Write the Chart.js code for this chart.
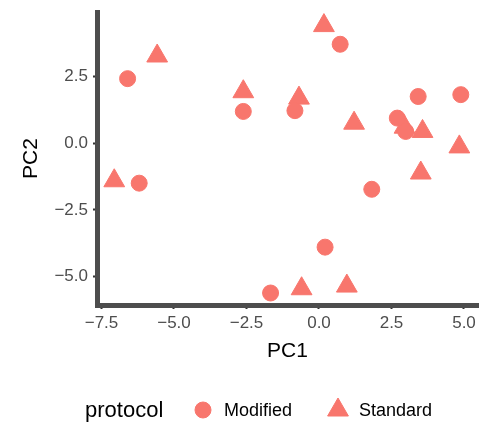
<!DOCTYPE html>
<html>
<head>
<meta charset="utf-8">
<title>PCA by protocol</title>
<script src="https://cdn.jsdelivr.net/npm/chart.js@4/dist/chart.umd.min.js"></script>
<style>
    body { margin: 0; background: #fff; }
    canvas { display: block; }
</style>
</head>
<body>
<canvas id="pca-chart" width="483" height="423"></canvas>
<script>
// values
const modifiedPC1 = [-6.60, -6.20, -2.61, -0.83, 0.73, 2.70, 2.99, 3.42, 4.89, 1.82, 0.21, -1.67];
const modifiedPC2 = [2.42, -1.50, 1.19, 1.22, 3.71, 0.94, 0.44, 1.75, 1.82, -1.73, -3.90, -5.62];
const standardPC1 = [-5.58, -2.61, 0.17, -0.69, 1.21, 2.95, 3.57, 4.84, 3.51, -7.06, -0.60, 0.96];
const standardPC2 = [3.27, 1.93, 4.41, 1.69, 0.75, 0.60, 0.44, -0.14, -1.12, -1.41, -5.46, -5.36];
const xTicks = [-7.5, -5.0, -2.5, 0.0, 2.5, 5.0];
const yTicks = [-5.0, -2.5, 0.0, 2.5];
const groups = ['Modified', 'Standard'];

const pointColor = '#F8766D';
const fontFamily = '"Liberation Sans", Arial, Helvetica, sans-serif';

function toPoints(xs, ys) {
    return xs.map((x, i) => ({ x: x, y: ys[i] }));
}

function formatTick(value) {
    return value.toFixed(1).replace('-', '\u2212');
}

// legend drawn by hand: title on the left, keys in a row
const bottomLegend = {
    id: 'bottomLegend',
    afterDraw(chart) {
        const ctx = chart.ctx;
        const y = 410;
        ctx.save();
        ctx.fillStyle = '#000';
        ctx.textBaseline = 'middle';
        ctx.font = '22px ' + fontFamily;
        ctx.fillText('protocol', 85, y + 1);

        const keys = [
            { style: 'circle', radius: 8, x: 203, textX: 224 },
            { style: 'triangle', radius: 12, x: 338, textX: 359 }
        ];
        ctx.font = '18px ' + fontFamily;
        keys.forEach((key, i) => {
            ctx.fillStyle = pointColor;
            ctx.strokeStyle = pointColor;
            ctx.lineWidth = 1;
            Chart.helpers.drawPoint(ctx, { pointStyle: key.style, radius: key.radius, rotation: 0, borderWidth: 1 }, key.x, y);
            ctx.fillStyle = '#000';
            ctx.fillText(groups[i], key.textX, y + 1);
        });
        ctx.restore();
    }
};

const ctx = document.getElementById('pca-chart').getContext('2d');
new Chart(ctx, {
    type: 'scatter',
    data: {
        datasets: [
            {
                label: groups[0],
                data: toPoints(modifiedPC1, modifiedPC2),
                pointStyle: 'circle',
                pointRadius: 8,
                pointHoverRadius: 8,
                backgroundColor: pointColor,
                borderColor: pointColor,
                borderWidth: 1
            },
            {
                label: groups[1],
                data: toPoints(standardPC1, standardPC2),
                pointStyle: 'triangle',
                pointRadius: 12,
                pointHoverRadius: 12,
                backgroundColor: pointColor,
                borderColor: pointColor,
                borderWidth: 1
            }
        ]
    },
    options: {
        responsive: false,
        animation: false,
        // autoPadding off, otherwise the big markers eat into the plot area
        layout: { autoPadding: false, padding: { left: 0, top: 12, right: 5, bottom: 58 } },
        plugins: {
            legend: { display: false },
            tooltip: { enabled: false }
        },
        scales: {
            x: {
                type: 'linear',
                min: -7.655,
                max: 5.483,
                afterFit(scale) {
                    scale.height = 60;
                    scale.paddingLeft = 0;
                    scale.paddingRight = 0;
                },
                afterBuildTicks(scale) { scale.ticks = xTicks.map(v => ({ value: v })); },
                grid: { drawOnChartArea: false, tickLength: 4, tickColor: '#333', tickWidth: 2 },
                border: { display: true, color: '#4d4d4d', width: 5 },
                ticks: {
                    padding: 4,
                    color: '#4d4d4d',
                    font: { family: fontFamily, size: 17 },
                    maxRotation: 0,
                    callback: formatTick
                },
                title: {
                    display: true,
                    text: 'PC1',
                    color: '#000',
                    font: { family: fontFamily, size: 21 },
                    padding: { top: 0, bottom: 1 }
                }
            },
            y: {
                type: 'linear',
                min: -6.07,
                max: 4.92,
                afterFit(scale) {
                    scale.width = 97;
                    scale.paddingTop = 0;
                    scale.paddingBottom = 0;
                },
                afterBuildTicks(scale) { scale.ticks = yTicks.map(v => ({ value: v })); },
                grid: { drawOnChartArea: false, tickLength: 4, tickColor: '#333', tickWidth: 2 },
                border: { display: true, color: '#4d4d4d', width: 5 },
                ticks: {
                    padding: 5,
                    color: '#4d4d4d',
                    font: { family: fontFamily, size: 17 },
                    callback: formatTick
                },
                title: {
                    display: true,
                    text: 'PC2',
                    color: '#000',
                    font: { family: fontFamily, size: 21 },
                    padding: { top: 19, bottom: 0 }
                }
            }
        }
    },
    plugins: [bottomLegend]
});
</script>
</body>
</html>
